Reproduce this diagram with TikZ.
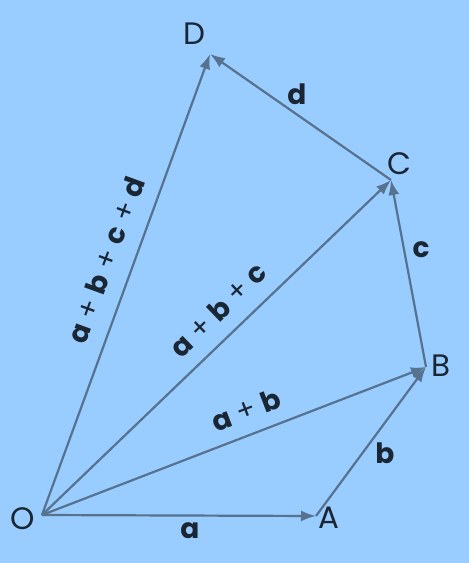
\documentclass[tikz,border=0pt]{standalone}
\usepackage{fontspec}
\setmainfont{Poppins}
\usetikzlibrary{arrows.meta}
\definecolor{bg}{HTML}{99CCFF}
\definecolor{vec}{HTML}{56728F}
\definecolor{ink}{HTML}{1A2633}
\newcommand{\pl}{\hspace{0.26em}{\mdseries+}\hspace{0.26em}}
\tikzset{
  vecline/.style={draw=vec, line width=2.2pt, -{Latex[length=15pt,width=11pt]}},
  pt/.style={text=ink, font=\fontsize{31}{31}\selectfont, inner sep=0pt},
  lbl/.style={text=ink, font=\bfseries\fontsize{28}{28}\selectfont, inner sep=0pt},
}
\begin{document}
\begin{tikzpicture}[x=1pt,y=-1pt]
\fill[bg] (0,0) rectangle (469,563);
\useasboundingbox (0,0) rectangle (469,563);
\coordinate (O) at (42,515);
\coordinate (A) at (316,516);
\coordinate (B) at (426,367);
\coordinate (C) at (391,180);
\coordinate (D) at (210,54);
\node[pt] (lO) at (23,519) {O};
\node[pt] (lA) at (329,518) {A};
\node[pt] (lB) at (441,366) {B};
\node[pt] (lC) at (399,164) {C};
\node[pt] (lD) at (194,34) {D};
\draw[vecline] (O) -- (A);
\draw[vecline] (A) -- (B);
\draw[vecline] (B) -- (C);
\draw[vecline] (C) -- (D);
\draw[vecline] (O) -- (B);
\draw[vecline] (O) -- (C);
\draw[vecline] (O) -- (D);
\node[lbl] (la) at (190,531) {a};
\node[lbl] (lb) at (385,453) {b};
\node[lbl] (lc) at (421,250) {c};
\node[lbl] (ld) at (297,94) {d};
\node[lbl, rotate=21] (lab) at (246,410) {a\pl b};
\node[lbl, rotate=44] (labc) at (218,310) {a\pl b\pl c};
\node[lbl, rotate=70] (labcd) at (106,260) {a\pl b\pl c\pl d};
\end{tikzpicture}
\end{document}
